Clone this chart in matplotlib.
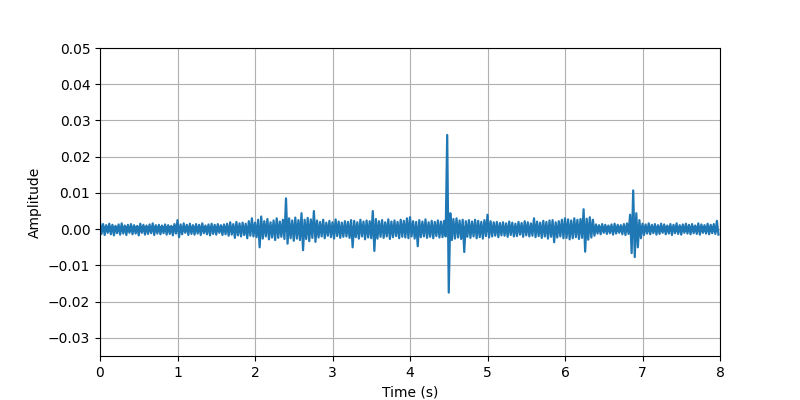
import numpy as np
import matplotlib
matplotlib.use("Agg")
import matplotlib.pyplot as plt


# --------------------------
# Waveform envelope (units of 1e-3), one pair every 0.04 s
# --------------------------
STEP = 0.04

env_hi = [
    2.0, 1.4, 1.1, 1.5, 1.2, 0.9, 1.3, 1.6, 1.0, 1.2,
    1.4, 1.1, 0.9, 1.5, 1.2, 1.0, 1.3, 1.6, 1.1, 1.2,
    1.0, 1.3, 1.1, 0.9, 1.4, 2.5, 1.3, 1.6, 1.2, 1.5,
    1.1, 1.4, 1.2, 1.6, 1.0, 1.3, 1.5, 1.2, 1.4, 1.1,
    1.3, 1.5, 1.9, 1.4, 2.0, 1.6, 1.8, 1.5, 2.2, 3.0,
    1.8, 2.6, 3.5, 2.2, 2.8, 1.9, 2.4, 3.0, 2.1, 2.6,
    8.5, 3.0, 2.4, 3.2, 2.5, 4.4, 2.6, 3.1, 2.7, 5.0,
    2.4, 2.0, 2.6, 1.8, 2.3, 1.9, 2.7, 2.1, 1.8, 2.2,
    2.0, 2.5, 2.3, 1.9, 2.6, 2.1, 2.4, 2.2, 5.0, 2.8,
    2.2, 2.5, 1.9, 2.7, 2.1, 2.4, 2.0, 2.6, 2.3, 3.0,
    3.3, 2.2, 2.0, 2.5, 2.1, 2.7, 1.9, 2.3, 2.0, 2.4,
    2.1, 2.3, 26.0, 4.4, 2.8, 3.0, 2.4, 2.6, 2.2, 2.5,
    2.1, 2.6, 2.3, 2.0, 2.5, 4.0, 2.2, 1.9, 2.0, 1.7,
    1.9, 1.6, 2.1, 1.8, 1.5, 2.0, 1.7, 2.2, 1.9, 1.6,
    3.0, 2.1, 1.8, 2.3, 2.0, 2.4, 2.5, 1.9, 2.2, 2.6,
    3.0, 2.7, 2.4, 3.0, 2.6, 2.8, 5.5, 2.9, 3.3, 2.6,
    1.3, 1.1, 1.4, 1.2, 1.0, 1.3, 1.5, 1.2, 1.1, 1.4,
    1.6, 4.0, 10.7, 4.4, 2.5, 1.5, 1.3, 1.6, 1.2, 1.4,
    1.1, 1.5, 1.3, 1.0, 1.4, 1.2, 1.6, 1.1, 1.3, 1.5,
    1.2, 1.4, 1.0, 1.6, 1.3, 1.1, 1.5, 1.2, 1.4, 2.3,
]

env_lo = [
    -1.3, -1.6, -1.0, -1.4, -1.7, -1.1, -1.5, -1.2, -1.6, -1.0,
    -1.4, -1.2, -1.7, -1.0, -1.5, -1.3, -1.1, -1.6, -1.2, -1.4,
    -1.1, -1.5, -1.3, -1.7, -1.2, -2.2, -1.4, -1.0, -1.6, -1.3,
    -1.5, -1.2, -1.6, -1.1, -1.4, -1.7, -1.3, -1.5, -1.0, -1.6,
    -1.4, -1.8, -1.5, -2.4, -1.7, -2.0, -1.6, -2.5, -1.8, -2.0,
    -2.2, -5.0, -2.6, -2.0, -2.8, -2.3, -3.0, -2.4, -2.1, -2.7,
    -4.0, -2.5, -3.2, -2.6, -3.0, -5.8, -2.7, -3.3, -2.4, -3.5,
    -2.3, -2.0, -2.5, -1.8, -2.2, -2.6, -1.9, -2.4, -2.1, -2.0,
    -2.4, -5.0, -2.2, -2.6, -2.0, -2.8, -2.3, -2.5, -6.0, -2.6,
    -2.1, -2.4, -2.0, -2.7, -2.2, -1.9, -2.5, -2.1, -2.3, -2.5,
    -2.0, -2.6, -4.7, -2.2, -2.0, -2.4, -2.1, -2.5, -1.9, -2.3,
    -2.2, -2.0, -17.5, -3.0, -2.6, -2.3, -2.7, -6.3, -2.1, -2.4,
    -2.0, -2.5, -2.2, -2.6, -1.9, -2.3, -2.0, -1.8, -2.2, -1.7,
    -1.8, -2.1, -1.6, -2.0, -1.9, -1.5, -2.1, -1.7, -2.0, -1.8,
    -2.2, -1.9, -2.4, -2.0, -2.6, -2.1, -3.6, -2.3, -2.0, -2.5,
    -2.4, -2.8, -2.5, -2.2, -2.7, -2.4, -6.2, -2.9, -2.3, -1.8,
    -1.2, -1.4, -1.0, -1.3, -1.1, -1.5, -1.2, -1.0, -1.4, -1.6,
    -1.3, -6.6, -7.7, -5.0, -2.5, -1.6, -1.2, -1.4, -1.1, -1.5,
    -1.3, -1.0, -1.4, -1.2, -1.6, -1.1, -1.3, -1.5, -1.0, -1.2,
    -1.4, -1.1, -1.3, -1.5, -1.0, -1.2, -1.4, -1.1, -1.3, -1.5,
]

CORE = 0.9  # solid middle of the band, 1e-3


# --------------------------
# Build the zig-zag trace: high point, then low point half a step later
# --------------------------
hi = np.array(env_hi) * 1e-3
lo = np.array(env_lo) * 1e-3
n = len(hi)

amp = np.empty(2 * n)
amp[0::2] = hi
amp[1::2] = lo
t = np.arange(2 * n) * (STEP / 2)
t_grid = np.arange(n) * STEP + STEP / 4

fig, ax = plt.subplots(figsize=(8, 4), dpi=100)
ax.fill_between(t_grid, np.minimum(hi, CORE * 1e-3), np.maximum(lo, -CORE * 1e-3),
                color="C0", linewidth=0)
ax.plot(t, amp, color="C0", linewidth=1.6)
ax.set_xlim(0, 8)
ax.set_ylim(-0.035, 0.05)
ax.set_xlabel("Time (s)")
ax.set_ylabel("Amplitude")
ax.grid(True)
fig.savefig("out.png")
